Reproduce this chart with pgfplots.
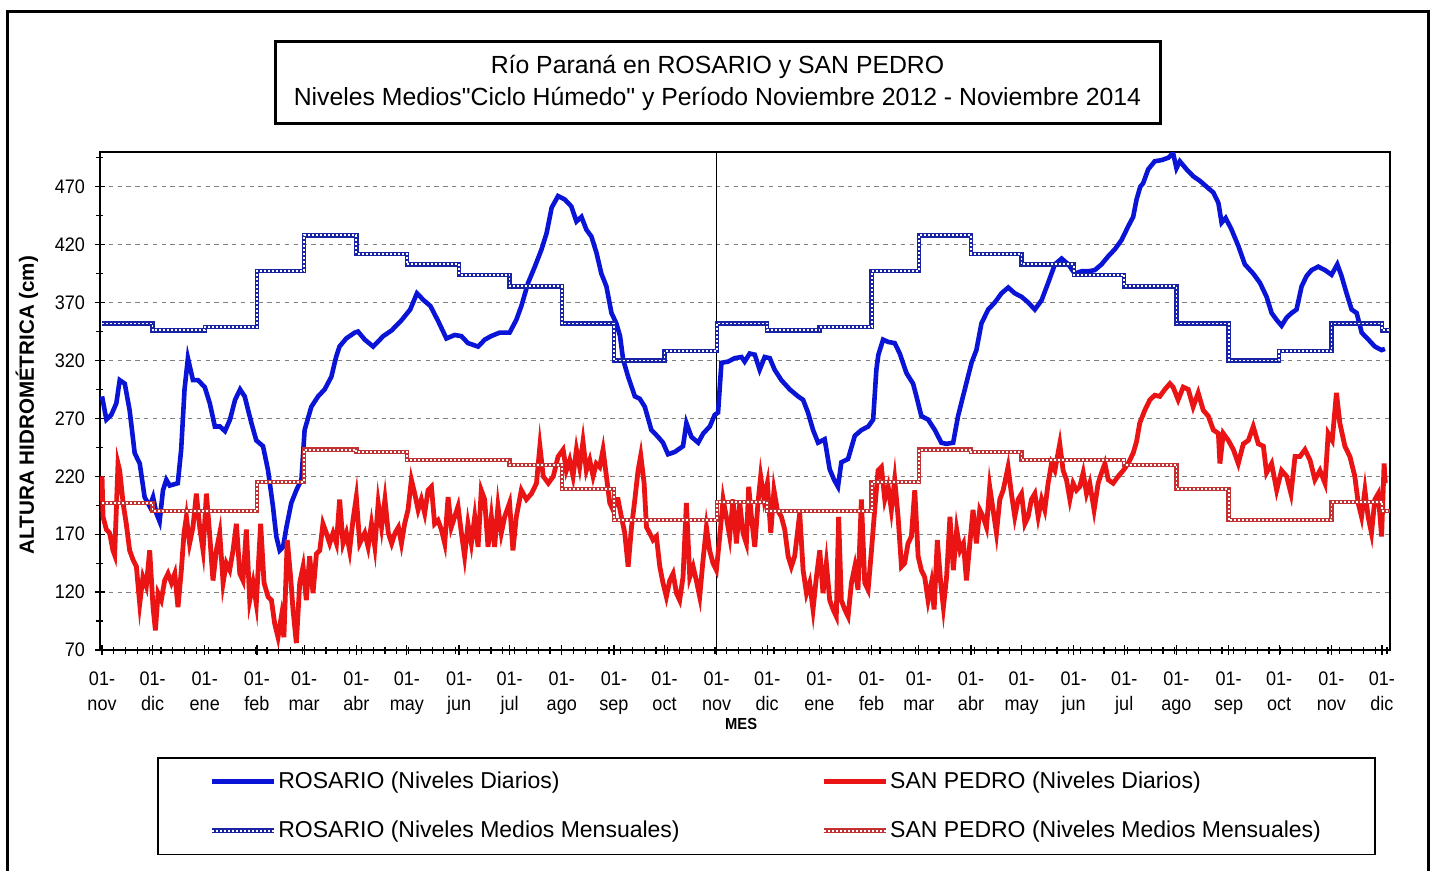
\documentclass[border=0pt]{standalone}
\usepackage{fontspec}
\setmainfont{Liberation Sans}[Ligatures=TeXOff]
\newfontfamily\narrowfont[FakeStretch=0.92]{Liberation Sans}
\usepackage{pgfplots}
\pgfplotsset{compat=1.18}
\definecolor{rosD}{RGB}{10,20,215}
\definecolor{spD}{RGB}{235,20,20}
\definecolor{rosM}{RGB}{25,35,165}
\definecolor{spM}{RGB}{195,50,50}
\begin{document}
\begin{tikzpicture}
\useasboundingbox (0,0) rectangle (718.5pt,-435.5pt);
\fill[white] (0,0) rectangle (718.5pt,-435.5pt);
\draw[line width=1.5pt] (3.5pt,-445pt) -- (3.5pt,-6pt) -- (714pt,-6pt) -- (714pt,-445pt);
\begin{axis}[
  at={(50pt,-325pt)}, anchor=south west,
  scale only axis, width=645pt, height=249pt,
  xmin=-1.2, xmax=764.8, ymin=70, ymax=500,
  xtick={0,30,61,92,120,151,181,212,242,273,304,334,365,395,426,457,485,516,546,577,607,638,669,699,730,760},
  xticklabels={{01-\\nov},{01-\\dic},{01-\\ene},{01-\\feb},{01-\\mar},{01-\\abr},{01-\\may},{01-\\jun},{01-\\jul},{01-\\ago},{01-\\sep},{01-\\oct},{01-\\nov},{01-\\dic},{01-\\ene},{01-\\feb},{01-\\mar},{01-\\abr},{01-\\may},{01-\\jun},{01-\\jul},{01-\\ago},{01-\\sep},{01-\\oct},{01-\\nov},{01-\\dic}},
  minor xtick={7,14,...,763},
  ytick={70,120,...,470},
  minor ytick={95,145,...,495},
  xtick pos=left, ytick pos=left,
  tick align=center,
  major tick length=5pt, minor tick length=3.5pt,
  tick style={black, line width=0.6pt},
  axis line style={line width=0.75pt},
  ymajorgrids,
  major grid style={gray, line width=0.5pt, dash pattern=on 2.2pt off 2.2pt},
  /pgf/number format/assume math mode=true,
  xticklabel style={align=center, font=\narrowfont\fontsize{9.8}{12.5}\selectfont, yshift=-5pt},
  yticklabel style={font=\narrowfont\fontsize{9.8}{11}\selectfont, xshift=-1.5pt},
  xlabel={MES},
  xlabel style={at={(axis description cs:0.497,-0.1486)}, anchor=center, font=\narrowfont\bfseries\fontsize{8}{9}\selectfont},
  ylabel={ALTURA HIDROMÉTRICA (cm)},
  ylabel style={at={(axis description cs:-0.0566,0.492)}, anchor=center, font=\bfseries\fontsize{10.3}{12}\selectfont},
  legend columns=2,
  legend cell align=left,
  legend style={at={(axis description cs:0.0442,-0.2149)}, anchor=north west, draw=black, line width=0.75pt,
     inner xsep=26pt, inner ysep=6pt, row sep=12.7pt, font=\fontsize{11.5}{13}\selectfont, nodes={inner sep=1pt}},
  legend image code/.code={\draw[#1] (0pt,0pt) -- (31pt,0pt);},
]
\addplot[black, line width=0.6pt, forget plot] coordinates {(365,70)(365,500)};
% ROSARIO daily
\addplot[rosD, line width=2.3pt, mark=none] coordinates {
(0,289)(2.6,269)(5.5,273)(8.5,283)(10.5,303)(13.5,300)(16.4,277)(19.4,240)(22.4,231)(25.3,202)(28.3,194)(30.3,202)(32.3,188)(34.2,181)(36.2,208)(38.2,217)(40.2,212)(45,214)(47,243)(49,295)(51,322)(54,303)(57,303)(61,297)(64,283)(67,263)(70,263)(73,259)(76,269)(79,286)(82,295)(84.7,289)(88.7,266)(91.6,251)(95.6,246)(98.6,225)(101.5,194)(103.5,168)(105.5,156)(107.5,159)(109.5,176)(112.4,197)(115.4,208)(118.4,217)(120.3,260)(124.3,280)(128.3,289)(132.2,295)(136.2,306)(139,323)(141,332)(145,339)(150,344)(152,345)(156,338)(161,332)(167,341)(172,346)(178,355)(183,364)(187,378)(191,372)(195,367)(199.6,354)(204.5,339)(209.4,342)(213.4,341)(217.3,335)(223.3,332)(227.3,338)(231,341)(236,344)(242,344)(246,355)(249,367)(253,387)(257,401)(261,416)(264,430)(267,452)(270.8,462)(274.8,459)(278.7,453)(281.7,440)(284.7,444)(287.6,433)(290.6,427)(293.6,413)(296.5,395)(299.5,384)(302.5,361)(305.4,352)(307.6,341)(309.4,321)(312.4,306)(316.4,289)(319.3,287)(322.3,280)(326.2,260)(330.2,254)(333.1,249)(336.1,239)(340.1,241)(345,246)(347,266)(350,254)(354,249)(357,257)(360.9,263)(363.8,273)(365.8,275)(367.8,318)(371.7,319)(375.7,322)(379.7,323)(381.6,319)(384.6,326)(387.6,325)(390.5,312)(393.5,323)(396.5,322)(399.4,312)(403.4,303)(408.4,295)(413.3,289)(416.3,286)(419.2,275)(422.2,260)(425.2,249)(429.1,252)(432.1,226)(434.7,217)(437,211)(439,232)(443,235)(447,255)(451,260)(455,263)(457.9,269)(459.8,312)(461,325)(463.8,338)(466.8,336)(470.7,335)(473.7,326)(477.7,309)(481.6,300)(483.6,289)(486.5,272)(490.5,269)(494.5,260)(498.4,249)(501.4,248)(505.4,249)(508.3,272)(512.3,295)(516.3,318)(519.2,329)(522.2,352)(526.2,364)(530.1,370)(534.1,378)(538.1,383)(542,378)(546,375)(550,370)(553.9,364)(557.9,372)(561.8,387)(565.8,403)(569.8,408)(573.8,403)(577.6,395)(581.6,397)(585.6,397)(589.5,398)(593.5,403)(597.5,410)(601.4,416)(605.4,424)(609.4,436)(612.3,444)(614.3,459)(616.5,470)(618.2,473)(621.2,485)(625.1,492)(629.1,493)(633.1,495)(636,499)(638,486)(640,492)(644,485)(648,479)(652,475)(655.9,470)(659.9,465)(662.9,456)(664.8,439)(667.2,443)(670.7,433)(674.7,419)(678.6,403)(683.6,395)(687.6,387)(691.5,375)(694.5,361)(697.5,355)(700.4,350)(703.4,357)(706.4,361)(709.3,364)(712.3,384)(715.3,393)(718.2,398)(722.2,401)(726.2,398)(730.1,394)(733.5,403)(736,393)(739,378)(742,364)(745,361)(748,344)(752,338)(755.8,332)(759.8,329)(761.8,330)
};
\addlegendentry{\makebox[270.5pt][l]{ROSARIO (Niveles Diarios)}}
% SAN PEDRO daily
\addplot[spD, line width=2.4pt, mark=none] coordinates {
(0,220)(0.6,185)(2.6,174)(4.5,171)(6.5,156)(7.5,152)(9.5,231)(10.5,225)(12.5,197)(14.4,179)(16.4,156)(18.4,148)(20.4,142)(22.4,110)(24.3,133)(26.3,125)(28.3,156)(30.3,107)(31.7,87)(33.3,119)(35.2,113)(37.2,130)(39.2,136)(41.2,128)(43.2,136)(45.1,107)(47.1,139)(48.7,171)(50.1,185)(52,162)(54,176)(56,205)(58,176)(60,156)(62,205)(64,168)(65.9,130)(67.9,156)(69.9,171)(71.9,128)(73.8,145)(75.8,139)(77.8,156)(79.8,179)(81.8,136)(83.7,130)(85.7,174)(87.7,113)(89.7,128)(91.6,110)(94.2,179)(96.2,128)(98.6,116)(100.6,113)(102.5,93)(104.5,81)(106.5,99)(108,81)(110,165)(112,133)(113.4,105)(115.4,76)(117.4,128)(119.4,142)(121.3,113)(123.3,151)(125.3,119)(127.3,153)(129.3,156)(131.2,179)(133.2,171)(135.2,162)(137.2,171)(139.2,162)(141.1,200)(143.1,162)(145.1,171)(147,156)(149,182)(151,202)(153,162)(156,171)(158,159)(160,179)(162,159)(164,197)(166,176)(168,200)(170,171)(172,162)(174,171)(176,176)(177.8,162)(179.7,179)(181.7,191)(183.7,217)(185.7,205)(187.7,191)(189.6,200)(191.6,188)(193.6,208)(195.6,211)(197.5,179)(199.5,182)(201.5,174)(203.5,162)(205.5,202)(207.4,176)(209.4,185)(211.4,194)(213.4,171)(215.3,151)(217.3,179)(219.3,162)(221.3,185)(223.3,159)(225.2,208)(227.2,200)(229.2,159)(231.2,185)(233.1,159)(235.1,194)(237.1,171)(239.1,185)(242,197)(244,156)(246,185)(249,208)(252,200)(255,205)(258,214)(260,246)(262,220)(265,214)(268,220)(270.8,237)(273.8,243)(275.7,225)(277.7,234)(279.7,220)(281.7,243)(283.6,228)(285.6,250)(287.6,225)(289.6,234)(291.6,220)(293.5,231)(295.5,228)(297.5,243)(299.5,220)(301.5,197)(303.4,191)(305.4,200)(306.4,200)(308.4,185)(310.4,171)(312.4,142)(314.4,176)(316.4,200)(318.3,225)(319.9,238)(321.9,214)(323.3,176)(325.2,171)(327.2,165)(329.2,168)(331.2,142)(333.1,128)(335.1,116)(337.1,130)(339.1,136)(341.1,119)(343,113)(345,133)(347,197)(349,133)(351,142)(352.9,130)(354.9,116)(356.9,148)(358.9,176)(360.8,156)(362.8,145)(364.8,139)(366.8,168)(368.8,200)(370.7,185)(372.7,168)(374.7,200)(376.7,162)(378.7,197)(380.6,171)(382.6,162)(384,211)(385.6,185)(387.6,159)(389.5,197)(391.1,220)(393.1,200)(395.1,214)(397.1,171)(399,208)(401,191)(403.4,185)(405.4,174)(407.4,151)(409.3,142)(411.3,151)(414.3,188)(416.3,139)(418.3,119)(420.2,128)(422.2,105)(424.2,133)(426.2,156)(428.1,119)(430.1,145)(432.1,113)(434.1,105)(436,99)(437.4,185)(439,113)(441,105)(443,99)(445,128)(447,142)(448.9,122)(450.9,200)(452.9,128)(454.9,122)(456.9,156)(458.8,191)(460.8,225)(462.8,228)(464.8,200)(466.8,211)(468.7,191)(470.7,217)(472.7,185)(474.7,142)(476.6,145)(478.6,162)(480.6,168)(482.6,208)(484.6,151)(486.5,139)(488.5,133)(490.5,113)(492.5,128)(494.1,105)(496,165)(498,128)(499.6,107)(501.5,133)(503.5,185)(505.5,139)(507.5,174)(509.5,156)(511.5,162)(513.3,130)(515.3,162)(517.2,191)(519.2,162)(521.2,191)(523.2,185)(525.2,176)(527.1,211)(529.1,191)(531.1,171)(533.1,200)(535.1,208)(538,228)(540,205)(542,185)(544,200)(546,205)(548,179)(549.9,185)(551.9,200)(553.9,205)(555.9,185)(557.9,200)(559.8,191)(561.8,214)(563.8,231)(565.8,225)(568.7,248)(570.7,225)(572.7,217)(574.7,200)(576.6,214)(578.6,208)(580.6,211)(582.6,223)(584.6,205)(586.5,214)(589.1,191)(591.5,214)(593.5,223)(595.5,231)(597.5,217)(600.4,214)(603.4,220)(606.4,225)(609.3,231)(612.3,240)(614.3,250)(616.2,266)(619.2,277)(622.2,286)(625.1,290)(628.1,289)(631.1,295)(634.1,300)(636,297)(639,286)(642,297)(645,295)(647.9,280)(650.9,292)(653.9,277)(656.9,272)(659.9,260)(662.9,257)(663.8,231)(665.8,257)(668.8,251)(671.8,243)(674.7,231)(677.7,248)(680.7,251)(683.6,263)(686.6,248)(689.6,246)(691.5,223)(694.5,231)(697.5,208)(700.4,225)(703.4,220)(706,205)(708.4,237)(711.3,237)(714.3,243)(717.3,234)(720.2,217)(723.2,225)(726.2,214)(728.1,257)(730.5,251)(733,292)(735,266)(738,246)(741,237)(743.9,220)(745.9,197)(747.9,185)(749.9,208)(751.8,185)(753.8,171)(755.8,200)(757.8,205)(759.8,168)(761.3,231)(762,214)
};
\addlegendentry{SAN PEDRO (Niveles Diarios)}
% ROSARIO monthly means
\addplot[rosM, line width=2.2pt, const plot, mark=none, postaction={draw, white, line width=0.9pt, dash pattern=on 1pt off 1pt}] coordinates {
(0,352)(30,346)(61,349)(92,397)(120,428)(151,412)(181,403)(212,394)(242,384)(273,352)(304,320)(334,328)(365,352)(395,346)(426,349)(457,397)(485,428)(516,412)(546,403)(577,394)(607,384)(638,352)(669,320)(699,328)(730,352)(760,346)(764.8,346)
};
\addlegendentry{\makebox[270.5pt][l]{ROSARIO (Niveles Medios Mensuales)}}
% SAN PEDRO monthly means
\addplot[spM, line width=2.2pt, const plot, mark=none, postaction={draw, white, line width=0.9pt, dash pattern=on 1pt off 1pt}] coordinates {
(0,197)(30,190)(61,190)(92,215)(120,243)(151,241)(181,234)(212,234)(242,230)(273,209)(304,182)(334,182)(365,198)(395,190)(426,190)(457,215)(485,243)(516,241)(546,234)(577,234)(607,230)(638,209)(669,182)(699,182)(730,198)(760,190)(764.8,190)
};
\addlegendentry{SAN PEDRO (Niveles Medios Mensuales)}
\end{axis}
\draw[line width=1.5pt, fill=white] (137.5pt,-21pt) rectangle (580pt,-62pt);
\node[font=\fontsize{12.4}{14}\selectfont] at (358.75pt,-33.5pt) {Río Paraná en ROSARIO y SAN PEDRO};
\node[font=\fontsize{12.4}{14}\selectfont] at (358.75pt,-49.5pt) {Niveles Medios"Ciclo Húmedo" y Período Noviembre 2012 - Noviembre 2014};
\end{tikzpicture}
\end{document}
